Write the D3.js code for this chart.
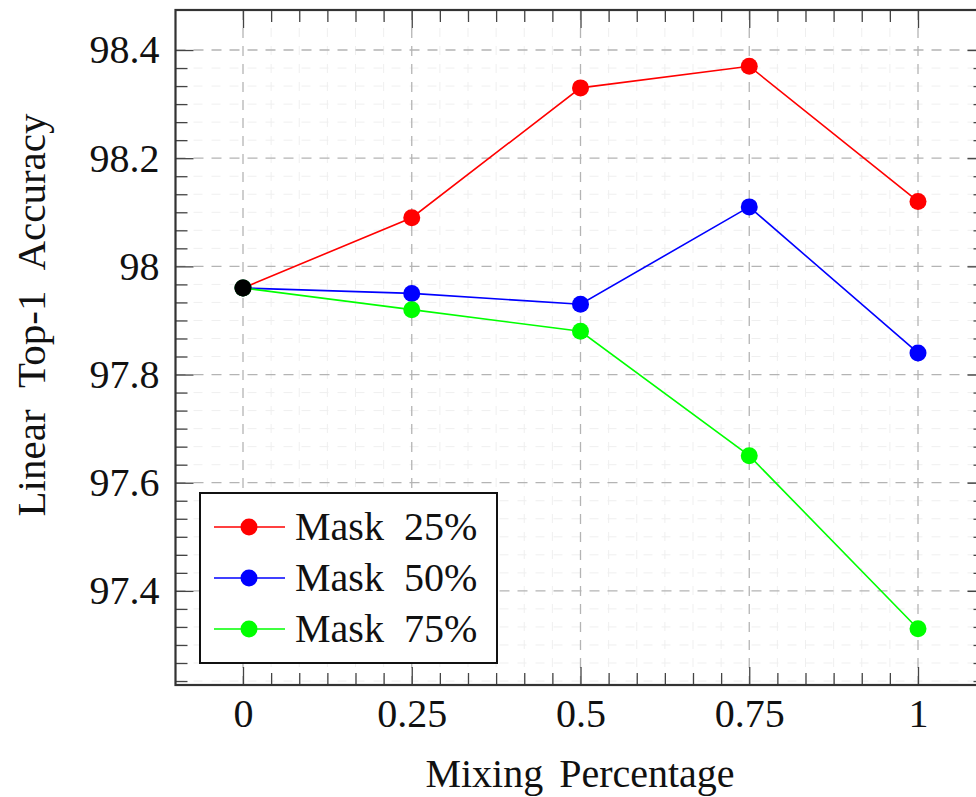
<!DOCTYPE html>
<html>
<head>
<meta charset="utf-8">
<script src="https://cdn.jsdelivr.net/npm/d3@7"></script>
<style>
  body { margin: 0; background: #fff; }
  svg { display: block; font-family: "Liberation Serif", "DejaVu Serif", serif; }
</style>
</head>
<body>
<svg width="976" height="797"></svg>
<script>
const mixing = [0, 0.25, 0.5, 0.75, 1];
const mask25 = [97.96, 98.09, 98.33, 98.37, 98.12];
const mask50 = [97.96, 97.95, 97.93, 98.11, 97.84];
const mask75 = [97.96, 97.92, 97.88, 97.65, 97.33];
const baseline = [{x: 0, y: 97.96}];
const xTicks = [0, 0.25, 0.5, 0.75, 1];
const xTickLabels = ["0", "0.25", "0.5", "0.75", "1"];
const yTicks = [97.4, 97.6, 97.8, 98, 98.2, 98.4];
const yTickLabels = ["97.4", "97.6", "97.8", "98", "98.2", "98.4"];
const seriesNames = ["Mask 25%", "Mask 50%", "Mask 75%"];
const seriesColors = ["#ff0000", "#0000ff", "#00ff00"];

const series = [mask25, mask50, mask75].map((vals, i) => ({
    name: seriesNames[i],
    color: seriesColors[i],
    points: vals.map((v, j) => ({x: mixing[j], y: v}))
}));

const svg = d3.select("svg"),
    margin = {top: 10, left: 175.5},
    width = 810,
    height = 675;

const g = svg.append("g")
    .attr("transform", `translate(${margin.left},${margin.top})`);

const x = d3.scaleLinear().domain([-0.1, 1.1]).range([0, width]);
const y = d3.scaleLinear().domain([97.226, 98.474]).range([height, 0]);

// minor tick positions, 5 between each pair of majors
const xMinor = [];
for (let i = 0; i < xTicks.length - 1; i++)
    for (let k = 1; k < 6; k++) xMinor.push(xTicks[i] + k * 0.25 / 6);
const yMinor = [];
for (let v = 97.2; v < 98.4; v += 0.2)
    for (let k = 1; k < 6; k++) {
        const m = v + k * 0.2 / 6;
        if (m > y.domain()[0]) yMinor.push(m);
    }

// grid
const grid = g.append("g");
grid.selectAll(".gx-minor").data(xMinor).join("line")
    .attr("x1", d => x(d)).attr("x2", d => x(d)).attr("y1", 0).attr("y2", height)
    .attr("stroke", "#efefef").attr("stroke-dasharray", "9,9");
grid.selectAll(".gy-minor").data(yMinor).join("line")
    .attr("y1", d => y(d)).attr("y2", d => y(d)).attr("x1", 0).attr("x2", width)
    .attr("stroke", "#efefef").attr("stroke-dasharray", "9,9");
grid.selectAll(".gx").data(xTicks).join("line")
    .attr("x1", d => x(d)).attr("x2", d => x(d)).attr("y1", 0).attr("y2", height)
    .attr("stroke", "#b4b4b4").attr("stroke-width", 1.3).attr("stroke-dasharray", "10,8");
grid.selectAll(".gy").data(yTicks).join("line")
    .attr("y1", d => y(d)).attr("y2", d => y(d)).attr("x1", 0).attr("x2", width)
    .attr("stroke", "#b4b4b4").attr("stroke-width", 1.3).attr("stroke-dasharray", "10,8");

// axes: major + minor ticks pointing inward on all four sides
function styleAxis(sel) {
    sel.select(".domain").remove();
    sel.selectAll(".tick line").attr("stroke", "#444").attr("stroke-width", 1.3);
}
g.append("g").attr("transform", `translate(0,${height})`)
    .call(d3.axisBottom(x).tickValues(xTicks).tickSize(-18).tickPadding(14)
        .tickFormat((d, i) => xTickLabels[i]))
    .call(styleAxis)
    .call(a => a.selectAll("text").attr("font-size", 40).attr("fill", "#111")
        .attr("font-family", "Liberation Serif"));
g.append("g").attr("transform", `translate(0,${height})`)
    .call(d3.axisBottom(x).tickValues(xMinor).tickSize(-12).tickFormat(""))
    .call(styleAxis);
g.append("g")
    .call(d3.axisTop(x).tickValues(xTicks).tickSize(-18).tickFormat(""))
    .call(styleAxis);
g.append("g")
    .call(d3.axisTop(x).tickValues(xMinor).tickSize(-12).tickFormat(""))
    .call(styleAxis);
g.append("g")
    .call(d3.axisLeft(y).tickValues(yTicks).tickSize(-18).tickPadding(16)
        .tickFormat((d, i) => yTickLabels[i]))
    .call(styleAxis)
    .call(a => a.selectAll("text").attr("font-size", 40).attr("fill", "#111")
        .attr("font-family", "Liberation Serif"));
g.append("g")
    .call(d3.axisLeft(y).tickValues(yMinor).tickSize(-12).tickFormat(""))
    .call(styleAxis);
g.append("g").attr("transform", `translate(${width},0)`)
    .call(d3.axisRight(y).tickValues(yTicks).tickSize(-18).tickFormat(""))
    .call(styleAxis);
g.append("g").attr("transform", `translate(${width},0)`)
    .call(d3.axisRight(y).tickValues(yMinor).tickSize(-12).tickFormat(""))
    .call(styleAxis);

g.append("rect")
    .attr("width", width).attr("height", height)
    .attr("fill", "none").attr("stroke", "#333").attr("stroke-width", 2.2);

// lines and markers
const line = d3.line().x(d => x(d.x)).y(d => y(d.y));
const sg = g.selectAll(".series").data(series).join("g");
sg.append("path")
    .attr("d", d => line(d.points))
    .attr("fill", "none").attr("stroke", d => d.color).attr("stroke-width", 1.6);
sg.selectAll("circle").data(d => d.points.map(p => ({...p, color: d.color}))).join("circle")
    .attr("cx", d => x(d.x)).attr("cy", d => y(d.y)).attr("r", 8.5)
    .attr("fill", d => d.color);

g.selectAll(".base").data(baseline).join("circle")
    .attr("cx", d => x(d.x)).attr("cy", d => y(d.y)).attr("r", 8.5)
    .attr("fill", "#000");

// legend
const legend = svg.append("g").attr("transform", "translate(200,493)");
legend.append("rect")
    .attr("width", 297).attr("height", 170)
    .attr("fill", "#fff").attr("stroke", "#111").attr("stroke-width", 2);
const item = legend.selectAll(".item").data(series).join("g")
    .attr("transform", (d, i) => `translate(0,${34 + i * 51})`);
item.append("line")
    .attr("x1", 14).attr("x2", 85)
    .attr("stroke", d => d.color).attr("stroke-width", 1.6);
item.append("circle").attr("cx", 49).attr("r", 8.5).attr("fill", d => d.color);
item.append("text")
    .attr("x", 95).attr("y", 13)
    .attr("font-size", 40).attr("fill", "#111")
    .attr("xml:space", "preserve")
    .text(d => d.name.replace(" ", "  "));

// axis titles
svg.append("text")
    .attr("x", 580).attr("y", 787)
    .attr("text-anchor", "middle").attr("font-size", 40).attr("fill", "#111")
    .attr("word-spacing", 6)
    .text("Mixing Percentage");
svg.append("text")
    .attr("transform", "translate(45,315) rotate(-90)")
    .attr("text-anchor", "middle").attr("font-size", 41).attr("fill", "#111")
    .attr("word-spacing", 12)
    .text("Linear Top-1 Accuracy");
</script>
</body>
</html>
